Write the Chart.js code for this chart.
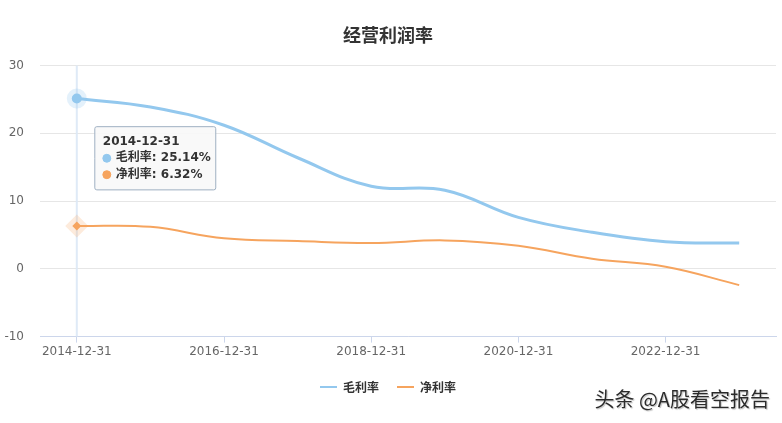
<!DOCTYPE html>
<html>
<head>
<meta charset="utf-8">
<script src="https://cdn.jsdelivr.net/npm/chart.js@4.4.1/dist/chart.umd.min.js"></script>
<style>
  html, body { margin: 0; padding: 0; background: #fff; }
  #wrap { position: relative; width: 782px; height: 423px; }
  #mark {
    position: absolute; right: 12px; bottom: 10px;
    font: 20px "Noto Sans CJK SC", sans-serif; color: #2b2b2b;
    text-shadow: 0 0 1px #fff, 1px 1px 1px #bbb;
  }
</style>
</head>
<body>
<div id="wrap">
  <canvas id="chart" width="782" height="423"></canvas>
  <div id="mark">头条 @A股看空报告</div>
</div>
<script>
const categories = ['2014-12-31', '2015-12-31', '2016-12-31', '2017-12-31', '2018-12-31',
  '2019-12-31', '2020-12-31', '2021-12-31', '2022-12-31', '2023-12-31']
const grossMargin = [25.14, 23.9, 21.2, 16.4, 12.2, 11.6, 7.6, 5.4, 4.0, 3.8]
const netMargin = [6.32, 6.2, 4.5, 4.1, 3.8, 4.2, 3.4, 1.5, 0.3, -2.4]
const yTicks = [-10, 0, 10, 20, 30]

const CJK = '"Noto Sans CJK SC", "Noto Sans", sans-serif'
const LATIN = '"DejaVu Sans", "Noto Sans CJK SC", sans-serif'
const RIGHT_GAP = 6

// stretch the plot to the right edge (layout keeps reserving room for x labels)
const stretchRight = {
  id: 'stretchRight',
  afterLayout (chart) {
    const x = chart.scales.x
    const right = chart.width - RIGHT_GAP
    chart.chartArea.right = right
    chart.chartArea.width = right - chart.chartArea.left
    x.right = right
    x.width = right - x.left
    x.configure()
  }
}

// light vertical pointer line behind the hovered category
const pointerLine = {
  id: 'pointerLine',
  beforeDatasetsDraw (chart) {
    const pt = chart.getDatasetMeta(0).data[0]
    const { ctx, chartArea } = chart
    ctx.save()
    ctx.strokeStyle = 'rgba(220,232,246,0.9)'
    ctx.lineWidth = 2
    ctx.beginPath()
    ctx.moveTo(pt.x, chartArea.top)
    ctx.lineTo(pt.x, chartArea.bottom)
    ctx.stroke()
    ctx.restore()
  }
}

Chart.Tooltip.positioners.beside = function (items) {
  if (!items.length) return false
  const ys = items.map(i => i.element.y)
  return { x: items[0].element.x + 16, y: (Math.min(...ys) + Math.max(...ys)) / 2 - 4 }
}

const buildDataset = (label, data, color, halo, width, style, radius) => ({
  label: label,
  data: data,
  borderColor: color,
  backgroundColor: color,
  borderWidth: width,
  tension: 0.4,
  pointStyle: style,
  pointRadius: c => c.dataIndex === 0 ? radius : 0,
  pointBorderWidth: c => c.dataIndex === 0 ? 10 : 0,
  pointBorderColor: halo,
  pointBackgroundColor: color,
  pointHoverRadius: c => c.dataIndex === 0 ? radius : 0,
  pointHoverBorderWidth: c => c.dataIndex === 0 ? 10 : 0
})

const chart = new Chart(document.getElementById('chart'), {
  type: 'line',
  data: {
    labels: categories,
    datasets: [
      buildDataset('毛利率', grossMargin, '#93c8ee', 'rgba(147,200,238,0.25)', 3, 'circle', 5),
      buildDataset('净利率', netMargin, '#f6a45e', 'rgba(246,164,94,0.22)', 2, 'rectRot', 4.5)
    ]
  },
  options: {
    responsive: false,
    animation: false,
    events: [],
    layout: { padding: { left: 0, right: RIGHT_GAP, top: 12, bottom: 20 } },
    plugins: {
      title: {
        display: true,
        text: '经营利润率',
        color: '#333',
        font: { family: CJK, size: 18, weight: 'bold' },
        padding: { top: 12, bottom: 20 }
      },
      legend: {
        position: 'bottom',
        labels: {
          usePointStyle: true,
          pointStyle: 'line',
          pointStyleWidth: 17,
          boxHeight: 12,
          padding: 18,
          color: '#333',
          font: { family: CJK, size: 12, weight: 'bold' },
          generateLabels: chart => chart.data.datasets.map((ds, i) => ({
            text: ds.label,
            datasetIndex: i,
            pointStyle: 'line',
            strokeStyle: ds.borderColor,
            fillStyle: ds.borderColor,
            lineWidth: 2,
            fontColor: '#333',
            hidden: false
          }))
        }
      },
      tooltip: {
        enabled: true,
        position: 'beside',
        xAlign: 'left',
        yAlign: 'center',
        caretSize: 0,
        backgroundColor: 'rgba(248,248,248,0.92)',
        borderColor: '#9fb0c2',
        borderWidth: 1,
        cornerRadius: 2,
        padding: { left: 8, right: 5, top: 8, bottom: 8 },
        titleColor: '#333',
        bodyColor: '#333',
        titleFont: { family: LATIN, size: 12, weight: 'bold' },
        bodyFont: { family: LATIN, size: 12, weight: 'bold' },
        titleMarginBottom: 2,
        bodySpacing: 2,
        usePointStyle: true,
        boxWidth: 8,
        boxHeight: 8,
        boxPadding: 3,
        callbacks: {
          label: c => `${c.dataset.label}: ${c.parsed.y.toFixed(2)}%`,
          labelPointStyle: () => ({ pointStyle: 'circle', rotation: 0 }),
          labelColor: c => ({ borderColor: c.dataset.borderColor, backgroundColor: c.dataset.borderColor, borderWidth: 0 })
        }
      }
    },
    scales: {
      x: {
        offset: true,
        border: { color: '#ccd6eb' },
        afterFit: axis => { axis.height += 2 },
        grid: {
          offset: false,
          drawOnChartArea: false,
          tickLength: 6,
          color: c => c.index % 2 === 0 ? '#ccd6eb' : 'rgba(0,0,0,0)'
        },
        ticks: {
          autoSkip: false,
          maxRotation: 0,
          color: '#666',
          padding: 2,
          font: { family: LATIN, size: 12 },
          callback: function (v, i) { return i % 2 === 0 ? this.getLabelForValue(v) : '' }
        }
      },
      y: {
        min: yTicks[0],
        max: yTicks[yTicks.length - 1],
        afterBuildTicks: axis => { axis.ticks = yTicks.map(v => ({ value: v })) },
        afterFit: axis => { axis.width = 40 },
        border: { display: false },
        grid: { color: '#e6e6e6', drawTicks: false },
        ticks: {
          color: '#666',
          padding: 16,
          font: { family: LATIN, size: 12 }
        }
      }
    }
  },
  plugins: [stretchRight, pointerLine]
})

chart.tooltip.setActiveElements(
  [{ datasetIndex: 0, index: 0 }, { datasetIndex: 1, index: 0 }],
  { x: 0, y: 0 }
)
chart.update()
</script>
</body>
</html>
